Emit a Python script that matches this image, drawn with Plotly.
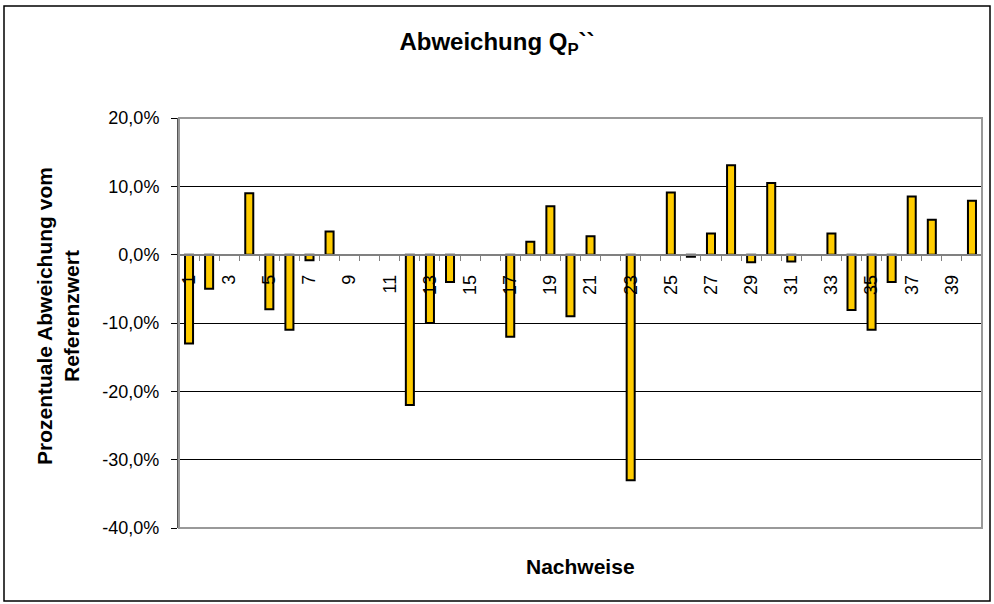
import plotly.graph_objects as go

# Nachweise 1..40, Abweichung vom Referenzwert (Anteil)
nachweise = list(range(1, 41))
abweichung = [
    -0.13, -0.05, None, 0.09, -0.08, -0.11, -0.008, 0.034, None, None,
    None, -0.22, -0.10, -0.04, None, None, -0.12, 0.019, 0.071, -0.09,
    0.027, None, -0.33, None, 0.091, -0.003, 0.031, 0.131, -0.011, 0.105,
    -0.01, None, 0.031, -0.081, -0.11, -0.04, 0.085, 0.051, None, 0.079,
]
x_ticks = [n for n in nachweise if n % 2 == 1]
y_ticks = [0.2, 0.1, 0.0, -0.1, -0.2, -0.3, -0.4]
y_labels = ["20,0%", "10,0%", "0,0%", "-10,0%", "-20,0%", "-30,0%", "-40,0%"]

FONT = "Liberation Sans, Arial, sans-serif"

fig = go.Figure()

fig.add_trace(
    go.Bar(
        x=nachweise,
        y=abweichung,
        marker_color="#FFCC00",
        marker_line_color="black",
        marker_line_width=2,
        showlegend=False,
    )
)

fig.update_layout(
    width=994,
    height=604,
    margin=dict(l=179, r=12, t=118, b=76),
    paper_bgcolor="white",
    plot_bgcolor="white",
    bargap=0.6,
    font=dict(family=FONT, color="black"),
    title=dict(
        text="<b>Abweichung Q<sub>P</sub>``</b>",
        x=0.5,
        xanchor="center",
        y=1 - 42 / 604,
        yanchor="middle",
        font=dict(size=24, family=FONT, color="black"),
    ),
    xaxis=dict(
        range=[0.5, 40.5],
        anchor="free",
        position=2 / 3,
        tickvals=x_ticks,
        ticktext=[str(n) for n in x_ticks],
        tickangle=-90,
        ticks="",
        ticklabelstandoff=12,
        minor=dict(
            tickvals=[n - 0.5 for n in nachweise] + [40.5],
            ticks="outside",
            ticklen=5,
            tickcolor="#808080",
            showgrid=False,
        ),
        showline=True,
        linecolor="#808080",
        linewidth=2,
        showgrid=False,
        zeroline=False,
        tickfont=dict(size=18, family=FONT, color="black"),
    ),
    yaxis=dict(
        range=[-0.4, 0.2],
        tickvals=y_ticks,
        ticktext=y_labels,
        ticks="outside",
        ticklen=6,
        tickcolor="black",
        ticklabelstandoff=8,
        showline=True,
        linecolor="#555555",
        linewidth=2,
        showgrid=True,
        gridcolor="black",
        gridwidth=1,
        zeroline=False,
        tickfont=dict(size=18, family=FONT, color="black"),
    ),
    shapes=[
        dict(type="rect", xref="paper", yref="paper", x0=0, x1=1, y0=0, y1=1,
             line=dict(color="#999999", width=2), layer="above"),
        dict(type="rect", xref="paper", yref="paper",
             x0=(4 - 179) / 803, x1=(990 - 179) / 803,
             y0=(528 - 601) / 410, y1=(528 - 6) / 410,
             line=dict(color="black", width=1.5)),
    ],
    annotations=[
        dict(text="<b>Prozentuale Abweichung vom<br>Referenzwert</b>",
             xref="paper", yref="paper",
             x=(58 - 179) / 803, y=(528 - 316) / 410,
             xanchor="center", yanchor="middle", textangle=-90,
             showarrow=False, font=dict(size=21, family=FONT, color="black")),
        dict(text="<b>Nachweise</b>",
             xref="paper", yref="paper",
             x=0.5, y=(528 - 566) / 410,
             xanchor="center", yanchor="middle",
             showarrow=False, font=dict(size=21, family=FONT, color="black")),
    ],
)

fig.write_html(
    "out.html",
    config={"displayModeBar": False},
    post_script="document.body.style.margin='0';",
)
